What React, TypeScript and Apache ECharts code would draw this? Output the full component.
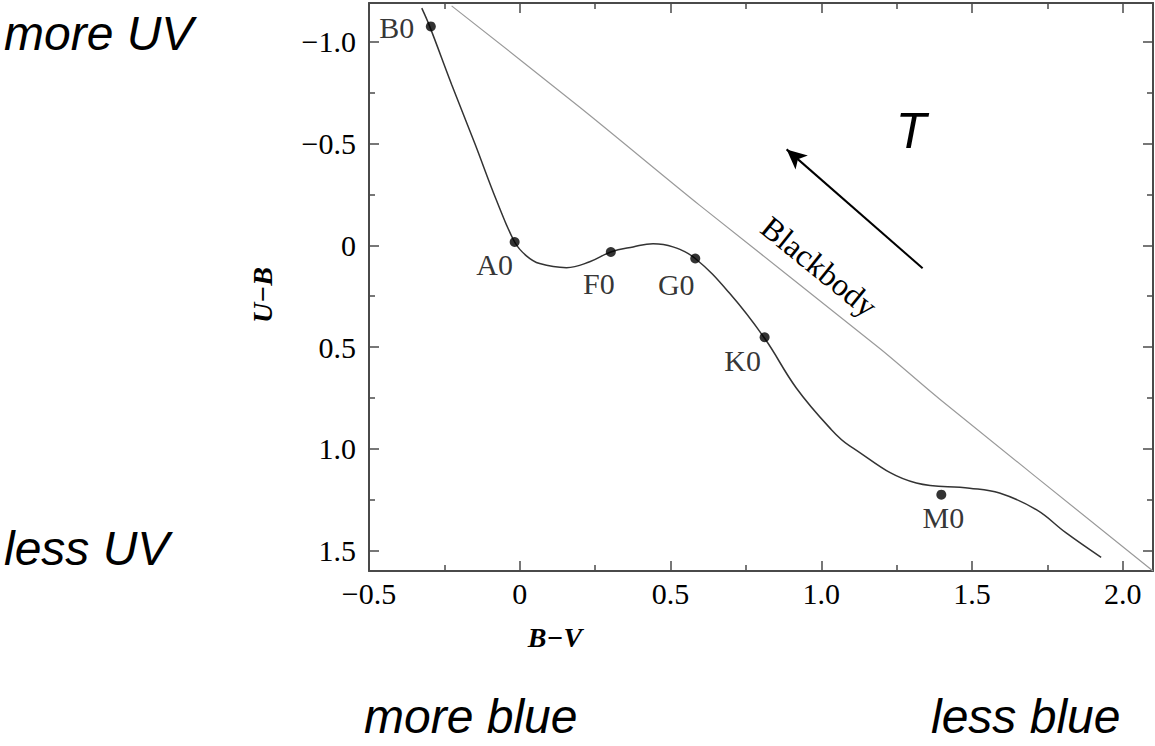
import React, { useEffect, useRef } from "react";
import * as echarts from "echarts";

// ---- data ----
const curveBV = [-0.325, -0.3, -0.226, -0.149, -0.077, -0.017, 0.022, 0.066, 0.155, 0.232, 0.302, 0.376, 0.442, 0.508, 0.582, 0.696, 0.812, 0.917, 1.028, 1.094, 1.315, 1.492, 1.591, 1.713, 1.812, 1.928];
const curveUB = [-1.165, -1.08, -0.79, -0.5, -0.22, -0.016, 0.052, 0.09, 0.11, 0.081, 0.033, 0.008, -0.008, 0.008, 0.065, 0.236, 0.457, 0.701, 0.897, 0.985, 1.168, 1.193, 1.217, 1.299, 1.413, 1.533];

const blackbodyBV = [-0.226, 0.199, 0.597, 1.193, 1.392, 2.1];
const blackbodyUB = [-1.176, -0.678, -0.196, 0.506, 0.755, 1.6];

const starTypes = ["B0", "A0", "F0", "G0", "K0", "M0"];
const starBV = [-0.295, -0.017, 0.302, 0.582, 0.812, 1.398];
const starUB = [-1.075, -0.016, 0.033, 0.065, 0.452, 1.225];

const xTicks = [-0.5, 0, 0.5, 1.0, 1.5, 2.0];
const xMinorTicks = [-0.25, 0.25, 0.75, 1.25, 1.75];
const yTicks = [-1.0, -0.5, 0, 0.5, 1.0, 1.5];
const yMinorTicks = [-0.75, -0.25, 0.25, 0.75, 1.25];

const arrowFrom = [1.336, 0.113];
const arrowTo = [0.885, -0.471];

const X_MIN = -0.5;
const X_MAX = 2.1;
const Y_MIN = -1.19;
const Y_MAX = 1.6;

// label offsets for star types (pixels)
const labelOffsets: number[][] = [[-34, 1], [-20, 22], [-12, 32], [-19, 26], [-22, 23], [2, 23]];

const SERIF = '"Liberation Serif", "Times New Roman", serif';
const SANS = '"Liberation Sans", Arial, sans-serif';
const FRAME = "#4a4a4a";

const fmt = (v: number) => {
  if (Math.abs(v) < 1e-9) return "0";
  return (v < 0 ? "\u2212" : "") + Math.abs(v).toFixed(1);
};

function xAxisDef(position: "top" | "bottom", ticks: number[], major: boolean, showLine: boolean, showLabel: boolean) {
  return {
    type: "value",
    min: X_MIN,
    max: X_MAX,
    position,
    splitLine: { show: false },
    axisLine: { show: showLine, onZero: false, lineStyle: { color: FRAME, width: 2 } },
    axisTick: { show: true, inside: true, length: major ? 10 : 6, customValues: ticks, lineStyle: { color: FRAME, width: 1.5 } },
    axisLabel: showLabel
      ? { show: true, customValues: ticks, formatter: fmt, margin: 7, fontFamily: SERIF, fontSize: 30, color: "#000" }
      : { show: false },
  };
}

function yAxisDef(position: "left" | "right", ticks: number[], major: boolean, showLine: boolean, showLabel: boolean) {
  return {
    type: "value",
    min: Y_MIN,
    max: Y_MAX,
    inverse: true,
    position,
    splitLine: { show: false },
    axisLine: { show: showLine, onZero: false, lineStyle: { color: FRAME, width: 2 } },
    axisTick: { show: true, inside: true, length: major ? 10 : 6, customValues: ticks, lineStyle: { color: FRAME, width: 1.5 } },
    axisLabel: showLabel
      ? { show: true, customValues: ticks, formatter: fmt, margin: 13, fontFamily: SERIF, fontSize: 30, color: "#000" }
      : { show: false },
  };
}

export default function App() {
  const ref = useRef<HTMLDivElement>(null);

  useEffect(() => {
    if (!ref.current) return;
    const chart = echarts.init(ref.current, null, { renderer: "svg" });

    const sansText = (text: string, x: number, y: number) => ({
      type: "text",
      x,
      y,
      style: {
        text,
        fontFamily: SANS,
        fontSize: 48,
        fontStyle: "italic",
        fill: "#000",
        textAlign: "left",
        textVerticalAlign: "middle",
      },
    });

    const option: any = {
      animation: false,
      backgroundColor: "#fff",
      grid: { left: 369, right: 2, top: 3, bottom: 175, containLabel: false },
      xAxis: [
        xAxisDef("bottom", xTicks, true, true, true),
        xAxisDef("bottom", xMinorTicks, false, false, false),
        xAxisDef("top", xTicks, true, true, false),
        xAxisDef("top", xMinorTicks, false, false, false),
      ],
      yAxis: [
        yAxisDef("left", yTicks, true, true, true),
        yAxisDef("left", yMinorTicks, false, false, false),
        yAxisDef("right", yTicks, true, true, false),
        yAxisDef("right", yMinorTicks, false, false, false),
      ],
      series: [
        {
          name: "blackbody",
          type: "line",
          data: blackbodyBV.map((x, i) => [x, blackbodyUB[i]]),
          smooth: 0.3,
          showSymbol: false,
          lineStyle: { color: "#9a9a9a", width: 1.2 },
          silent: true,
          z: 2,
        },
        {
          name: "sequence",
          type: "line",
          data: curveBV.map((x, i) => [x, curveUB[i]]),
          smooth: 0.4,
          showSymbol: false,
          lineStyle: { color: "#333", width: 1.5 },
          silent: true,
          z: 3,
        },
        {
          name: "stars",
          type: "scatter",
          symbol: "circle",
          symbolSize: 10,
          itemStyle: { color: "#000" },
          data: starTypes.map((n, i) => ({
            name: n,
            value: [starBV[i], starUB[i]],
            label: { offset: labelOffsets[i] },
          })),
          label: {
            show: true,
            position: "inside",
            formatter: "{b}",
            fontFamily: SERIF,
            fontSize: 30,
            color: "#000",
            align: "center",
            verticalAlign: "middle",
          },
          z: 4,
        },
        {
          name: "arrow",
          type: "line",
          data: [],
          markLine: {
            silent: true,
            symbol: ["none", "arrow"],
            symbolSize: [14, 20],
            label: { show: false },
            lineStyle: { color: "#000", width: 2, type: "solid" },
            data: [[{ coord: arrowFrom }, { coord: arrowTo }]],
          },
        },
      ],
      graphic: [
        { type: "text", x: 262, y: 295, rotation: Math.PI / 2, style: { text: "U\u2212B", fontFamily: SERIF, fontSize: 28, fontStyle: "italic", fontWeight: "bold", fill: "#000", textAlign: "center", textVerticalAlign: "middle" } },
        { type: "text", x: 555, y: 637, style: { text: "B\u2212V", fontFamily: SERIF, fontSize: 28, fontStyle: "italic", fontWeight: "bold", fill: "#000", textAlign: "center", textVerticalAlign: "middle" } },
        { type: "text", x: 819, y: 267, rotation: -39 * Math.PI / 180, style: { text: "Blackbody", fontFamily: SERIF, fontSize: 32, fill: "#000", textAlign: "center", textVerticalAlign: "middle" } },
        { type: "text", x: 911, y: 131, style: { text: "T", fontFamily: SANS, fontSize: 50, fontStyle: "italic", fill: "#000", textAlign: "center", textVerticalAlign: "middle" } },
        sansText("more UV", 4, 33),
        sansText("less UV", 4, 548),
        sansText("more blue", 364, 716),
        sansText("less blue", 931, 716),
      ],
    };

    chart.setOption(option);
    return () => chart.dispose();
  }, []);

  return (
    <div
      ref={ref}
      style={{ position: "fixed", left: 0, top: 0, width: 1155, height: 746, background: "#fff" }}
    />
  );
}
